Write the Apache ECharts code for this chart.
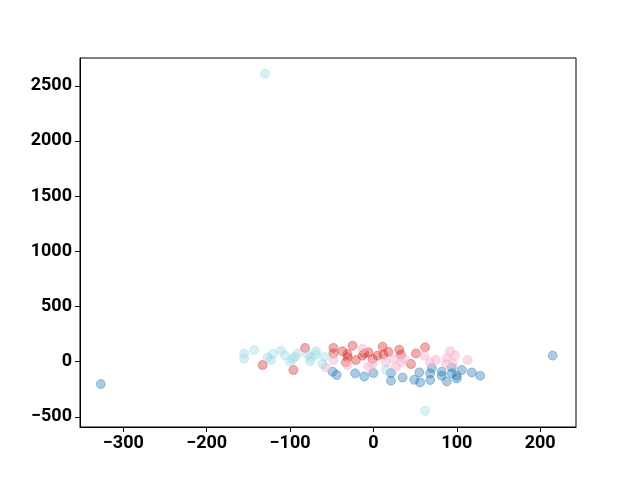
<!DOCTYPE html>
<html>
<head>
<meta charset="utf-8">
<script src="https://cdn.jsdelivr.net/npm/echarts@6/dist/echarts.min.js"></script>
<style>html,body{margin:0;padding:0;background:#fff}#c{width:640px;height:480px}</style>
</head>
<body>
<div id="c"></div>
<script>
var xTicks = [-300, -200, -100, 0, 100, 200];
var yTicks = [-500, 0, 500, 1000, 1500, 2000, 2500];

var blueX = [-327, -49, -44, -22, -11, 0, 21, 21, 35, 49, 55, 56, 68, 68, 70, 82, 82, 88, 94, 94, 100, 100, 106, 118, 128, 215];
var blueY = [-203, -91, -121, -106, -134, -103, -103, -173, -143, -164, -97, -188, -166, -106, -57, -91, -127, -179, -52, -106, -127, -152, -75, -97, -127, 55];

var redX = [-133, -96, -82, -48, -48, -37, -31, -31, -33, -25, -21, -13, -11, -6, -1, 5, 11, 12, 18, 31, 33, 45, 51, 62];
var redY = [-30, -75, 125, 125, 75, 94, 70, 39, -6, 145, 15, 55, 75, 85, 25, 55, 136, 64, 88, 109, 64, -21, 75, 130];

var pinkX = [-57, -48, -31, -13, -6, -1, 15, 25, 27, 37, 33, 61, 68, 75, 88, 92, 98, 87, 95, 113];
var pinkY = [-52, 15, -30, 115, -45, -21, -6, 25, -45, 25, -6, 55, -6, 15, 34, 94, 55, -21, -15, 15];

var cyanX = [-130, 62, -155, -155, -143, -127, -123, -121, -111, -106, -100, -97, -94, -91, -79, -76, -75, -69, -69, -59, -61, 15];
var cyanY = [2609, -445, 73, 27, 106, 39, 15, 70, 100, 55, 0, 25, 45, 75, 64, 3, 39, 94, 64, 45, -21, -75];

function pts(xs, ys) { return xs.map(function (x, i) { return [x, ys[i]]; }); }
function ser(xs, ys, col) {
  return {
    type: 'scatter', data: pts(xs, ys), symbolSize: 9,
    itemStyle: { color: col, borderColor: col, borderWidth: 1, opacity: 1 },
    emphasis: { disabled: true }, animation: false
  };
}

var chart = echarts.init(document.getElementById('c'), null, { renderer: 'canvas' });
var lbl = { color: '#000', fontFamily: 'Roboto', fontWeight: 'bold', fontSize: 18, formatter: function (v) { return String(v).replace('-', '\u2212'); } };
chart.setOption({
  animation: false,
  backgroundColor: '#fff',
  grid: { left: 80, right: 64, top: 58, bottom: 53, show: true, borderColor: '#000', borderWidth: 1, backgroundColor: '#fff' },
  xAxis: {
    type: 'value', min: -352, max: 243,
    axisLine: { show: true, onZero: false, lineStyle: { color: '#000', width: 1 } },
    axisTick: { show: true, length: 5, customValues: xTicks, lineStyle: { color: '#000' } },
    axisLabel: Object.assign({ customValues: xTicks, margin: 7 }, lbl),
    splitLine: { show: false }
  },
  yAxis: {
    type: 'value', min: -592, max: 2752,
    axisLine: { show: true, onZero: false, lineStyle: { color: '#000', width: 1 } },
    axisTick: { show: true, length: 5, customValues: yTicks, lineStyle: { color: '#000' } },
    axisLabel: Object.assign({ customValues: yTicks, margin: 8 }, lbl),
    splitLine: { show: false }
  },
  series: [
    ser(blueX, blueY, 'rgba(31,119,180,0.38)'),
    ser(redX, redY, 'rgba(214,39,40,0.38)'),
    ser(pinkX, pinkY, 'rgba(247,182,210,0.5)'),
    ser(cyanX, cyanY, 'rgba(158,218,229,0.4)')
  ]
});
</script>
</body>
</html>
